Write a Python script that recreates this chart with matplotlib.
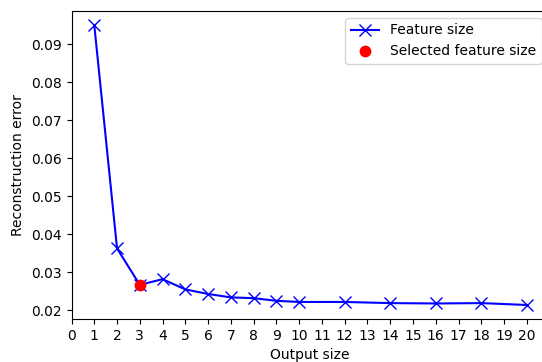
import matplotlib
matplotlib.use("Agg")
import matplotlib.pyplot as plt

# output sizes and reconstruction errors
sizes = [1, 2, 3, 4, 5, 6, 7, 8, 9, 10, 12, 14, 16, 18, 20]
errors = [0.0951, 0.0363, 0.0267, 0.0282, 0.0255, 0.0243, 0.0234, 0.0232,
          0.0225, 0.0222, 0.0222, 0.0219, 0.0218, 0.0219, 0.0214]
selected_size = 3
selected_error = 0.0267

dpi = 100
fig = plt.figure(figsize=(542 / dpi, 362 / dpi), dpi=dpi)
ax = fig.add_axes([71.5 / 542, 43 / 362, 477 / 542, 308 / 362])

ax.plot(sizes, errors, 'b-x', markersize=8, label='Feature size')
ax.plot(selected_size, selected_error, 'ro', markersize=7.5, label='Selected feature size')

ax.set_xlim(left=0)
ax.set_xticks(range(0, 21))
ax.set_xlabel('Output size')
ax.set_ylabel('Reconstruction error')
ax.legend(loc='upper right')

fig.savefig('out.png', dpi=dpi)
